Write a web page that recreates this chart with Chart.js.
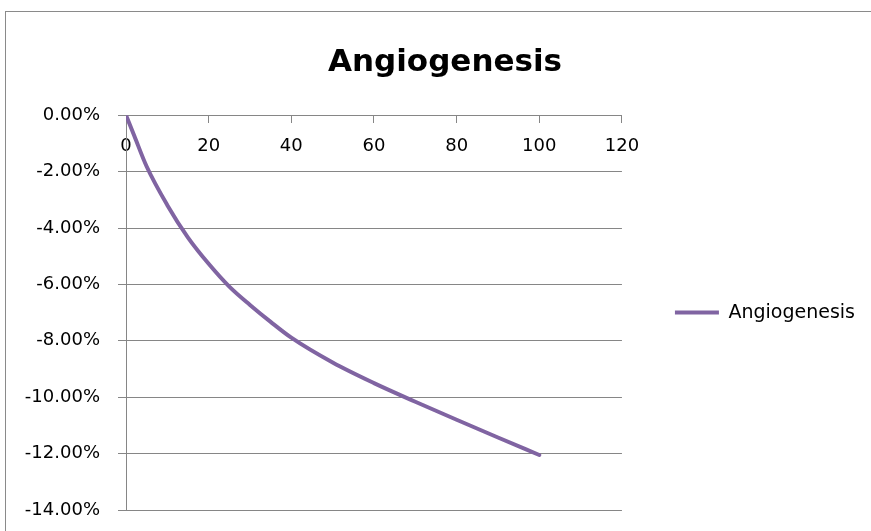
<!DOCTYPE html>
<html>
<head>
<meta charset="utf-8">
<script src="https://cdn.jsdelivr.net/npm/chart.js@4/dist/chart.umd.min.js"></script>
<style>
  html, body { margin: 0; padding: 0; background: #ffffff; }
  #wrap { position: relative; width: 871px; height: 531px; }
</style>
</head>
<body>
<div id="wrap"><canvas id="c" width="871" height="531"></canvas></div>
<script>
const chartTitle = "Angiogenesis";
const seriesName = "Angiogenesis";
const xValues = [0, 2, 5, 10, 15, 20, 25, 30, 35, 40, 50, 60, 70, 80, 90, 100];
const yPercent = [0, -0.73, -1.82, -3.19, -4.34, -5.27, -6.08, -6.73, -7.33, -7.89, -8.77, -9.5, -10.16, -10.8, -11.43, -12.05];
const xTicks = [0, 20, 40, 60, 80, 100, 120];
const yTicks = [0, -2, -4, -6, -8, -10, -12, -14];

const points = xValues.map((x, i) => ({ x: x, y: yPercent[i] }));

const frame = {
  id: 'frame',
  beforeDraw(chart) {
    const ctx = chart.ctx;
    ctx.save();
    ctx.fillStyle = '#ffffff';
    ctx.fillRect(0, 0, chart.width, chart.height);
    ctx.strokeStyle = '#8a8a8a';
    ctx.lineWidth = 1;
    ctx.strokeRect(5.5, 11.5, 2000, 2000);
    ctx.restore();
  }
};

new Chart(document.getElementById('c'), {
  type: 'scatter',
  data: {
    datasets: [{
      label: seriesName,
      data: points,
      showLine: true,
      borderColor: '#8064A2',
      backgroundColor: '#8064A2',
      borderWidth: 4,
      pointRadius: 0,
      pointHoverRadius: 0,
      cubicInterpolationMode: 'monotone',
      borderCapStyle: 'round',
      borderJoinStyle: 'round'
    }]
  },
  plugins: [frame],
  options: {
    responsive: false,
    animation: false,
    devicePixelRatio: 1,
    layout: { padding: { left: 25, right: 6, top: 0, bottom: 21 } },
    plugins: {
      title: {
        display: true,
        text: chartTitle,
        color: '#000000',
        font: { family: 'DejaVu Sans', size: 31, weight: 'bold', lineHeight: 1.2 },
        padding: { top: 44, bottom: 34 }
      },
      legend: {
        display: true,
        position: 'right',
        fullSize: false,
        maxWidth: 249,
        labels: {
          usePointStyle: true,
          pointStyle: 'line',
          pointStyleWidth: 44,
          padding: 53,
          color: '#000000',
          font: { family: 'DejaVu Sans', size: 19 }
        }
      },
      tooltip: { enabled: false }
    },
    scales: {
      x: {
        type: 'linear',
        position: { y: 0 },
        min: 0,
        max: 120,
        afterBuildTicks: (s) => { s.ticks = xTicks.map(v => ({ value: v })); },
        ticks: {
          color: '#000000',
          padding: 13,
          maxRotation: 0,
          font: { family: 'DejaVu Sans', size: 18 }
        },
        grid: { display: true, drawOnChartArea: false, drawTicks: true, tickLength: 7, color: '#868686' },
        border: { display: true, color: '#868686', width: 1 }
      },
      y: {
        type: 'linear',
        position: 'left',
        min: -14,
        max: 0,
        afterBuildTicks: (s) => { s.ticks = yTicks.map(v => ({ value: v })); },
        afterFit: (s) => { s.width = 101; s.paddingBottom = 0; },
        ticks: {
          color: '#000000',
          padding: 18,
          font: { family: 'DejaVu Sans', size: 18 },
          callback: (v) => (v === 0 ? 0 : v).toFixed(2) + '%'
        },
        grid: { display: true, drawTicks: true, tickLength: 8, color: '#868686', lineWidth: 1 },
        border: { display: true, color: '#868686', width: 1 }
      }
    }
  }
});
</script>
</body>
</html>
